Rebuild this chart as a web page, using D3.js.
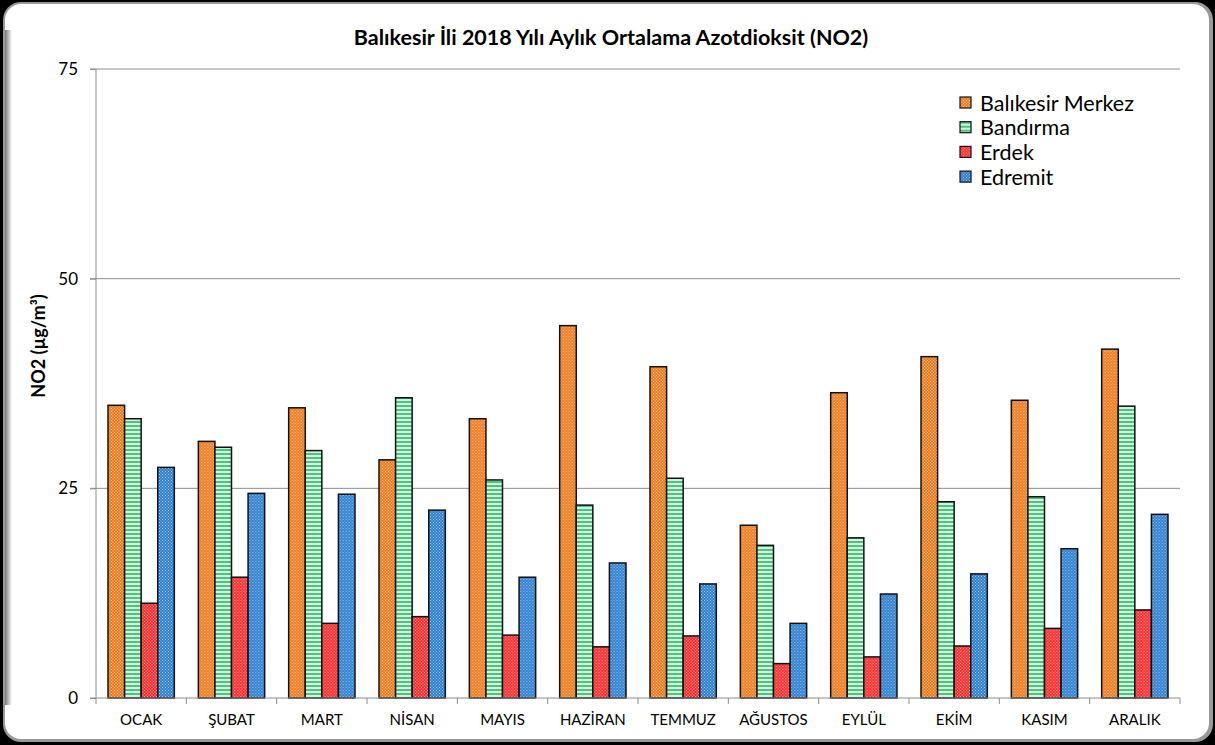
<!DOCTYPE html>
<html>
<head>
<meta charset="utf-8">
<script src="https://cdn.jsdelivr.net/npm/d3@7"></script>
<style>
  body { margin: 0; background: #000; }
  svg { display: block; }
  text { font-family: Lato, "Open Sans", sans-serif; fill: #000; }
</style>
</head>
<body>
<div id="chart"></div>
<script>
var months = ["OCAK", "ŞUBAT", "MART", "NİSAN", "MAYIS", "HAZİRAN", "TEMMUZ", "AĞUSTOS", "EYLÜL", "EKİM", "KASIM", "ARALIK"];
var stations = ["Balıkesir Merkez", "Bandırma", "Erdek", "Edremit"];

var merkez  = [34.9, 30.6, 34.6, 28.4, 33.3, 44.4, 39.5, 20.6, 36.4, 40.7, 35.5, 41.6];
var bandirma = [33.3, 29.9, 29.5, 35.8, 26.0, 23.0, 26.2, 18.2, 19.1, 23.4, 24.0, 34.8];
var erdek   = [11.3, 14.4, 8.9, 9.7, 7.5, 6.1, 7.4, 4.1, 4.9, 6.2, 8.3, 10.5];
var edremit = [27.5, 24.4, 24.3, 22.4, 14.4, 16.1, 13.6, 8.9, 12.4, 14.8, 17.8, 21.9];

var yTicks = [0, 25, 50, 75];

var seriesValues = [merkez, bandirma, erdek, edremit];

var W = 1215, H = 745;
var margin = { top: 69, right: 35, bottom: 47, left: 96 };
var width = W - margin.left - margin.right;
var height = H - margin.top - margin.bottom;

var svg = d3.select("#chart").append("svg")
    .attr("width", W)
    .attr("height", H);

// patterns for the bar fills
var defs = svg.append("defs");

function dotPattern(id, base, dot) {
    var p = defs.append("pattern")
        .attr("id", id)
        .attr("width", 3).attr("height", 3)
        .attr("patternUnits", "userSpaceOnUse");
    p.append("rect").attr("width", 3).attr("height", 3).attr("fill", base);
    p.append("rect").attr("x", 0).attr("y", 0).attr("width", 1).attr("height", 1).attr("fill", dot);
    p.append("rect").attr("x", 1.5).attr("y", 1.5).attr("width", 1).attr("height", 1).attr("fill", dot);
}
dotPattern("pOrange", "#ee7d22", "#f9c595");
dotPattern("pRed", "#fb2f2f", "#ff9d9d");
dotPattern("pBlue", "#2f7fcf", "#a3c9ee");

var stripe = defs.append("pattern")
    .attr("id", "pGreen")
    .attr("width", 4).attr("height", 4)
    .attr("patternUnits", "userSpaceOnUse");
stripe.append("rect").attr("width", 4).attr("height", 4).attr("fill", "#d4f3df");
stripe.append("rect").attr("y", 0).attr("width", 4).attr("height", 2).attr("fill", "#4cc47e");

var shadow = defs.append("linearGradient").attr("id", "edgeL").attr("x1", 0).attr("x2", 1);
shadow.append("stop").attr("offset", 0).attr("stop-color", "#777");
shadow.append("stop").attr("offset", 1).attr("stop-color", "#fff");

// frame
svg.append("rect")
    .attr("width", W).attr("height", H)
    .attr("fill", "#000");
svg.append("rect")
    .attr("x", 3).attr("y", 2)
    .attr("width", W - 5).attr("height", H - 5)
    .attr("rx", 18)
    .attr("fill", "#999");
svg.append("rect")
    .attr("x", 5).attr("y", 4)
    .attr("width", W - 11).attr("height", H - 10)
    .attr("rx", 16)
    .attr("fill", "#fff");
svg.append("rect")
    .attr("x", 5).attr("y", 30)
    .attr("width", 7).attr("height", H - 70)
    .attr("fill", "url(#edgeL)");

var g = svg.append("g")
    .attr("transform", "translate(" + margin.left + "," + margin.top + ")");

var x0 = d3.scaleBand()
    .domain(months)
    .range([0, width])
    .padding(0);

var groupPad = x0.bandwidth() * 0.133;
var x1 = d3.scaleBand()
    .domain(stations)
    .range([groupPad, x0.bandwidth() - groupPad])
    .padding(0);

var y = d3.scaleLinear()
    .domain([0, 75])
    .range([height, 0]);

var fills = d3.scaleOrdinal()
    .domain(stations)
    .range(["url(#pOrange)", "url(#pGreen)", "url(#pRed)", "url(#pBlue)"]);

// gridlines
g.append("g")
    .selectAll("line")
    .data(yTicks.slice(1))
    .enter().append("line")
    .attr("x1", -6)
    .attr("x2", width)
    .attr("y1", function (d) { return y(d); })
    .attr("y2", function (d) { return y(d); })
    .attr("stroke", "#8c8c8c")
    .attr("stroke-width", 1);

// bars
var data = months.map(function (m, i) {
    return { month: m, values: stations.map(function (s, k) { return { key: s, value: seriesValues[k][i] }; }) };
});

g.append("g")
    .selectAll("g")
    .data(data)
    .enter().append("g")
    .attr("transform", function (d) { return "translate(" + x0(d.month) + ",0)"; })
    .selectAll("rect")
    .data(function (d) { return d.values; })
    .enter().append("rect")
    .attr("x", function (d) { return x1(d.key); })
    .attr("y", function (d) { return y(d.value); })
    .attr("width", x1.bandwidth())
    .attr("height", function (d) { return height - y(d.value); })
    .attr("fill", function (d) { return fills(d.key); })
    .attr("stroke", "#111")
    .attr("stroke-width", 1.5);

// y axis
var yAxis = g.append("g")
    .call(d3.axisLeft(y).tickValues(yTicks).tickSize(6).tickPadding(12));
yAxis.select(".domain").attr("stroke", "#8c8c8c").attr("d", "M0," + height + "V0");
yAxis.selectAll(".tick line").attr("stroke", "#8c8c8c");
yAxis.selectAll(".tick text")
    .style("font-family", "Lato, 'Open Sans', sans-serif")
    .style("font-size", "17px");

// x axis
var xAxis = g.append("g")
    .attr("transform", "translate(0," + height + ")")
    .call(d3.axisBottom(x0).tickSize(0).tickPadding(16));
xAxis.select(".domain").attr("stroke", "#8c8c8c").attr("d", "M-6,0H" + width);
xAxis.selectAll(".tick text")
    .style("font-family", "Lato, 'Open Sans', sans-serif")
    .style("font-size", "15px");
xAxis.append("g")
    .selectAll("line")
    .data(d3.range(months.length + 1))
    .enter().append("line")
    .attr("x1", function (d) { return d * x0.step(); })
    .attr("x2", function (d) { return d * x0.step(); })
    .attr("y1", 0)
    .attr("y2", 6)
    .attr("stroke", "#8c8c8c");

// title
svg.append("text")
    .attr("x", 611)
    .attr("y", 45)
    .attr("text-anchor", "middle")
    .style("font-size", "21.5px")
    .style("font-weight", "bold")
    .text("Balıkesir İli 2018 Yılı Aylık Ortalama Azotdioksit (NO2)");

// y label
svg.append("text")
    .attr("transform", "translate(45,346) rotate(-90)")
    .attr("text-anchor", "middle")
    .style("font-size", "18px")
    .style("font-weight", "bold")
    .text("NO2 (µg/m³)");

// legend
var legend = svg.append("g")
    .selectAll("g")
    .data(stations)
    .enter().append("g")
    .attr("transform", function (d, i) { return "translate(960," + (97 + i * 24.7) + ")"; });

legend.append("rect")
    .attr("width", 11)
    .attr("height", 11)
    .attr("fill", fills)
    .attr("stroke", "#111")
    .attr("stroke-width", 1.2);

legend.append("text")
    .attr("x", 20)
    .attr("y", 6)
    .attr("dy", "0.36em")
    .style("font-size", "21.5px")
    .text(function (d) { return d; });
</script>
</body>
</html>
